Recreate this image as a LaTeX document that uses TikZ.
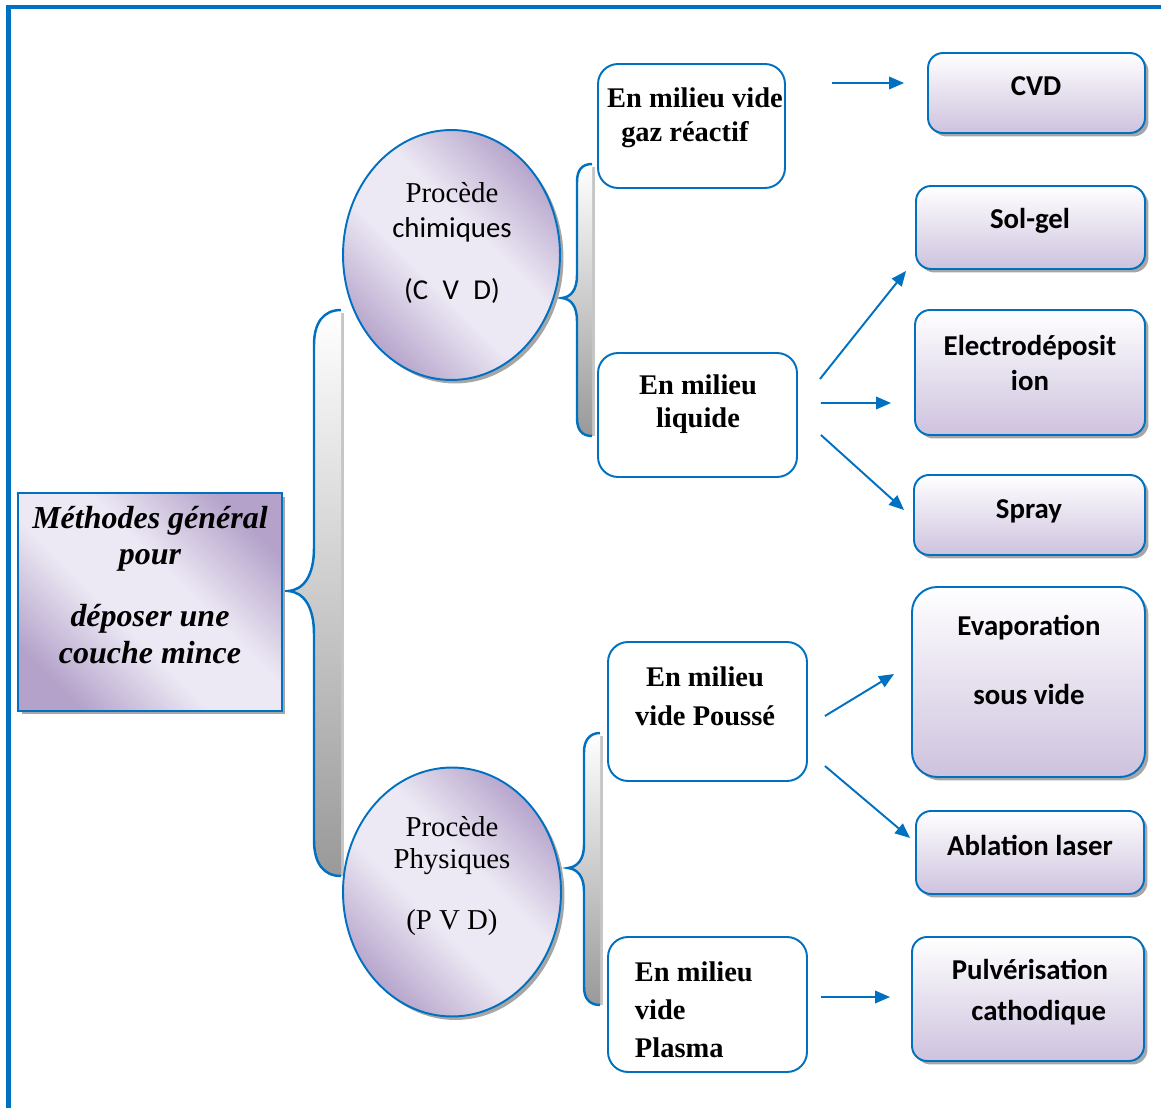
\documentclass[tikz,border=0pt]{standalone}
\usepackage{fontspec}
\setmainfont{Liberation Serif}
\newfontfamily\calibri{Carlito}
\usetikzlibrary{arrows.meta,shapes.geometric,shadows}
\definecolor{lineblue}{RGB}{0,112,192}
\definecolor{lavdark}{RGB}{180,162,202}
\definecolor{lavlight}{RGB}{237,233,244}
\definecolor{lavbottom}{RGB}{206,194,222}
\pgfdeclarehorizontalshading{lavband}{100bp}{color(0bp)=(lavdark); color(24bp)=(lavdark); color(43bp)=(lavlight); color(57bp)=(lavlight); color(76bp)=(lavdark); color(100bp)=(lavdark)}

\begin{document}
\begin{tikzpicture}[
  x=0.02cm, y=-0.02cm,
  line width=1.1pt,
  shadowed/.style={drop shadow={shadow xshift=0.07cm,shadow yshift=-0.07cm,fill=gray!70,opacity=1}},
  topic/.style={draw=lineblue,shading=lavband,shading angle=45,inner sep=0pt,shadowed},
  proc/.style={ellipse,draw=lineblue,shading=lavband,shading angle=45,inner sep=0pt,shadowed},
  milieu/.style={draw=lineblue,rounded corners=0.4cm,fill=white,inner sep=0pt},
  method/.style={draw=lineblue,rounded corners=0.3cm,top color=white,bottom color=lavbottom,inner sep=0pt,shadowed},
  titletext/.style={font=\fontsize{18.2}{21}\selectfont\bfseries\itshape,align=center},
  proctext/.style={font=\fontsize{16.4}{19.5}\selectfont,align=center},
  milieutext/.style={font=\fontsize{16.2}{19.5}\selectfont\bfseries,align=center},
  methodtext/.style={font=\calibri\fontsize{16.4}{20.4}\selectfont\bfseries,align=center},
  brace/.style={top color=white,bottom color=gray!80},
  braceline/.style={draw=lineblue,line width=1.4pt},
  arrow/.style={draw=lineblue,-{Triangle[length=0.3cm,width=0.25cm]}}
]
\useasboundingbox (0,0) rectangle (1161,1108);
\draw[lineblue,line width=2.8pt] (8.5,1130) |- (1180,7);

% braces
\draw[gray!45,line width=1.5pt] (342.5,313) -- (342.5,876);
\draw[braceline,preaction={brace}] (341,310) .. controls (324,310) and (314,322) .. (314,345) -- (314,548) .. controls (314,575) and (304,590) .. (288,591) .. controls (304,592) and (314,607) .. (314,634) -- (314,840) .. controls (314,864) and (324,876) .. (341,876);
\draw[gray!45,line width=1.5pt] (593.5,167) -- (593.5,436);
\draw[braceline,preaction={brace}] (592,164) .. controls (582,164) and (577,170) .. (577,182) -- (577,275) .. controls (577,290) and (571,297) .. (562,298) .. controls (571,299) and (577,306) .. (577,321) -- (577,418) .. controls (577,430) and (582,436) .. (592,436);
\draw[gray!45,line width=1.5pt] (601.5,736) -- (601.5,1005);
\draw[braceline,preaction={brace}] (600,733) .. controls (590,733) and (584,740) .. (584,752) -- (584,845) .. controls (584,860) and (577,867) .. (568,868) .. controls (577,869) and (584,876) .. (584,891) -- (584,987) .. controls (584,999) and (590,1005) .. (600,1005);

% left column
\node[topic,minimum width=5.28cm,minimum height=4.36cm] (methodes) at (150,602) {};
\node[titletext] (methodestxt) at (150,585) {Méthodes général\\pour\\[0.5cm]déposer une\\couche mince};

\node[proc,minimum width=4.34cm,minimum height=5.0cm] (chim) at (451.5,255) {};
\node[proctext] (chimtxt) at (452,243) {Procède\\{\calibri chimiques}\\[0.56cm]{\calibri (C\enspace V\enspace D)}};
\node[proc,minimum width=4.36cm,minimum height=4.98cm] (phys) at (452,892) {};
\node[proctext,font=\fontsize{16.4}{18.7}\selectfont] (phystxt) at (452,876) {Procède\\Physiques\\[0.56cm](P V D)};

% milieux
\node[milieu,minimum width=3.74cm,minimum height=2.48cm,
  path picture={\node[milieutext,anchor=west,align=left,inner sep=0pt] (vgaztxt) at ([shift={(2.5,-8.5)}]path picture bounding box.west) {En milieu vide\\\hspace*{8pt}gaz réactif};}] (vgaz) at (691.5,126) {};
\node[milieu,minimum width=3.98cm,minimum height=2.48cm] (liq) at (697.5,415) {};
\node[milieutext,font=\fontsize{16.2}{18.7}\selectfont\bfseries] (liqtxt) at (698,404.5) {En milieu\\liquide};
\node[milieu,minimum width=3.98cm,minimum height=2.78cm] (vpous) at (707.5,711.5) {};
\node[milieutext,font=\fontsize{16.2}{22}\selectfont\bfseries] (vpoustxt) at (705,696.5) {En milieu\\vide Poussé};
\node[milieu,minimum width=3.98cm,minimum height=2.7cm] (vplas) at (707.5,1004.5) {};
\node[milieutext,font=\fontsize{16.2}{21.5}\selectfont\bfseries,align=left,anchor=west,inner sep=0pt] (vplastxt) at (634,1009.5) {En milieu\\vide\\Plasma};

% methodes de depot
\node[method,minimum width=4.34cm,minimum height=1.6cm] (cvd) at (1036.5,93) {};
\node[methodtext] (cvdtxt) at (1036,86) {CVD};
\node[method,minimum width=4.58cm,minimum height=1.66cm] (solgel) at (1030.5,227.5) {};
\node[methodtext] (solgeltxt) at (1030,221) {Sol-gel};
\node[method,minimum width=4.6cm,minimum height=2.5cm] (electro) at (1030,372.5) {};
\node[methodtext] (electrotxt) at (1030,363) {Electrodéposit\\ion};
\node[method,minimum width=4.62cm,minimum height=1.6cm] (spray) at (1029.5,515) {};
\node[methodtext] (spraytxt) at (1029,511) {Spray};
\node[method,rounded corners=0.5cm,minimum width=4.66cm,minimum height=3.8cm] (evap) at (1028.5,682) {};
\node[methodtext] (evaptxt) at (1029,660) {Evaporation\\[0.65cm]sous vide};
\node[method,minimum width=4.56cm,minimum height=1.66cm] (ablation) at (1030,852.5) {};
\node[methodtext] (ablationtxt) at (1030,845) {Ablation laser};
\node[method,minimum width=4.64cm,minimum height=2.48cm] (pulv) at (1028,999) {};
\node[methodtext,font=\calibri\fontsize{16.4}{23.2}\selectfont\bfseries] (pulvtxt) at (1030,992) {Pulvérisation\\\hspace*{10pt}cathodique};

% fleches
\draw[arrow] ([shift={(46,-43)}]vgaz.east) -- ([shift={(-23,-10)}]cvd.west);
\draw[arrow] ([shift={(22,-36)}]liq.east) -- ([shift={(-9,1)}]solgel.south west);
\draw[arrow] ([shift={(23,-12)}]liq.east) -- ([shift={(-23,30.5)}]electro.west);
\draw[arrow] ([shift={(23,20)}]liq.east) -- ([shift={(-9,-5)}]spray.west);
\draw[arrow] ([shift={(17,4.5)}]vpous.east) -- ([shift={(-17,-8)}]evap.west);
\draw[arrow] ([shift={(17,54.5)}]vpous.east) -- ([shift={(-5,-14.5)}]ablation.west);
\draw[arrow] ([shift={(13,-7.5)}]vplas.east) -- ([shift={(-21,-2)}]pulv.west);
\end{tikzpicture}
\end{document}
